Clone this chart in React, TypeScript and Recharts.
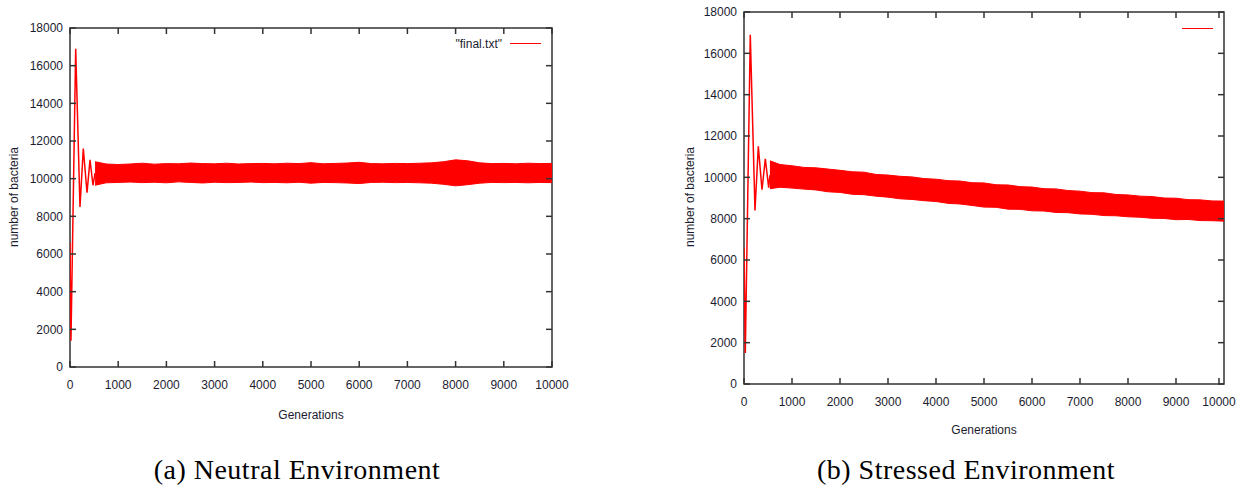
import React from "react";
import { ComposedChart, Line, Area, XAxis, YAxis, ReferenceArea } from "recharts";

const xTicks = [0, 1000, 2000, 3000, 4000, 5000, 6000, 7000, 8000, 9000, 10000];
const yTicks = [0, 2000, 4000, 6000, 8000, 10000, 12000, 14000, 16000, 18000];

// (a) neutral environment: start-up swing, then an oscillating band (low/high edges)
const neutralStartGen = [0, 20, 118, 207, 276, 353, 415, 477, 520];
const neutralStartVal = [6600, 1400, 16900, 8500, 11600, 9250, 11000, 9650, 10300];
const neutralBandGen = [
  520, 750, 1000, 1250, 1500, 1750, 2000, 2250, 2500, 2750, 3000, 3250, 3500, 3750,
  4000, 4250, 4500, 4750, 5000, 5250, 5500, 5750, 6000, 6250, 6500, 6750, 7000,
  7250, 7500, 7750, 8000, 8250, 8500, 8750, 9000, 9250, 9500, 9750, 10000,
];
const neutralBandLo = [
  9650, 9780, 9800, 9820, 9790, 9810, 9780, 9830, 9800, 9770, 9810, 9790, 9800, 9820,
  9790, 9800, 9780, 9810, 9760, 9800, 9790, 9770, 9740, 9800, 9810, 9790, 9800,
  9780, 9760, 9700, 9620, 9680, 9760, 9800, 9790, 9800, 9780, 9800, 9790,
];
const neutralBandHi = [
  10900, 10780, 10750, 10780, 10820, 10770, 10800, 10790, 10830, 10800, 10790, 10820, 10780, 10800,
  10810, 10790, 10820, 10800, 10850, 10790, 10810, 10830, 10870, 10800, 10790, 10810, 10800,
  10820, 10840, 10900, 11000, 10950, 10840, 10800, 10810, 10790, 10820, 10800, 10810,
];

// (b) stressed environment: same start, band drifts down
const stressedStartGen = [0, 27, 131, 229, 298, 375, 444, 514, 540];
const stressedStartVal = [6600, 1500, 16900, 8400, 11500, 9400, 10900, 9500, 10100];
const stressedBandGen = neutralBandGen.map((g, i) => (i === 0 ? 540 : g));
const stressedBandLo = [
  9450, 9520, 9480, 9430, 9390, 9300, 9270, 9180, 9160, 9090, 9040, 8960, 8930, 8870,
  8830, 8740, 8710, 8640, 8560, 8550, 8460, 8450, 8380, 8370, 8300, 8290, 8230,
  8210, 8150, 8140, 8090, 8070, 8020, 8010, 7950, 7960, 7910, 7900, 7880,
];
const stressedBandHi = [
  10800, 10620, 10560, 10480, 10460, 10400, 10340, 10270, 10250, 10140, 10110, 10050, 10020, 9940,
  9910, 9840, 9820, 9740, 9730, 9640, 9630, 9550, 9530, 9450, 9440, 9360, 9330,
  9260, 9250, 9170, 9150, 9090, 9070, 9000, 8990, 8920, 8910, 8860, 8850,
];

const RED = "#ff0000";
const AXIS = "#333333";
const LABEL = "#1c1c30";

function buildRows(sg: number[], sv: number[], bg: number[], lo: number[], hi: number[]) {
  const rows: any[] = sg.map((g, i) => ({ gen: g, v: sv[i] }));
  bg.forEach((g, i) => rows.push({ gen: g, band: [lo[i], hi[i]] }));
  return rows;
}

type PanelProps = {
  left: number;
  width: number;
  height: number;
  margin: { top: number; right: number; bottom: number; left: number };
  rows: any[];
  legendText: string;
  legendY: number;
  titleY: number;
  yTitleX: number;
};

function Panel(p: PanelProps) {
  const yAxisW = 60;
  const xAxisH = 50;
  const plotL = p.margin.left + yAxisW;
  const plotR = p.width - p.margin.right;
  const plotT = p.margin.top;
  const plotB = p.height - p.margin.bottom - xAxisH;
  const font = { fontFamily: "Liberation Sans", fontSize: 12, fill: LABEL };

  const xTick = (props: any) => {
    const { x, payload } = props;
    return (
      <g>
        <line x1={x} x2={x} y1={plotB} y2={plotB - 6} stroke={AXIS} strokeWidth={1.5} />
        <line x1={x} x2={x} y1={plotT} y2={plotT + 6} stroke={AXIS} strokeWidth={1.5} />
        <text x={x} y={plotB + 18} dy="0.35em" textAnchor="middle" {...font}>
          {payload.value}
        </text>
      </g>
    );
  };

  const yTick = (props: any) => {
    const { y, payload } = props;
    return (
      <g>
        <line x1={plotL} x2={plotL + 6} y1={y} y2={y} stroke={AXIS} strokeWidth={1.5} />
        <line x1={plotR - 6} x2={plotR} y1={y} y2={y} stroke={AXIS} strokeWidth={1.5} />
        <text x={plotL - 7} y={y} dy="0.35em" textAnchor="end" {...font}>
          {payload.value}
        </text>
      </g>
    );
  };

  return (
    <div style={{ position: "absolute", left: p.left, top: 0, width: p.width, height: p.height }}>
      <ComposedChart width={p.width} height={p.height} data={p.rows} margin={p.margin}>
        <XAxis
          dataKey="gen"
          type="number"
          domain={[0, 10000]}
          ticks={xTicks}
          tick={xTick}
          tickLine={false}
          axisLine={false}
          height={xAxisH}
          allowDataOverflow
        />
        <YAxis
          type="number"
          domain={[0, 18000]}
          ticks={yTicks}
          tick={yTick}
          tickLine={false}
          axisLine={false}
          width={yAxisW}
          allowDataOverflow
        />
        <ReferenceArea x1={0} x2={10000} y1={0} y2={18000} fill="none" stroke={AXIS} strokeWidth={1.5} />
        <Area
          dataKey="band"
          type="linear"
          stroke={RED}
          strokeWidth={1}
          fill={RED}
          fillOpacity={1}
          isAnimationActive={false}
        />
        <Line
          dataKey="v"
          type="linear"
          stroke={RED}
          strokeWidth={1.5}
          dot={false}
          isAnimationActive={false}
        />
      </ComposedChart>
      {/* legend */}
      <div
        style={{
          position: "absolute",
          right: p.width - plotR + 50,
          top: p.legendY - 8,
          fontFamily: "Liberation Sans",
          fontSize: 12,
          color: LABEL,
          lineHeight: "16px",
        }}
      >
        {p.legendText}
      </div>
      <div
        style={{
          position: "absolute",
          left: plotR - 42,
          width: 31,
          top: p.legendY - 1,
          height: 1,
          background: RED,
        }}
      />
      {/* axis titles */}
      <div
        style={{
          position: "absolute",
          left: plotL,
          width: plotR - plotL,
          top: p.titleY - 8,
          textAlign: "center",
          fontFamily: "Liberation Sans",
          fontSize: 12,
          color: LABEL,
          lineHeight: "16px",
        }}
      >
        Generations
      </div>
      <div
        style={{
          position: "absolute",
          left: p.yTitleX - 80,
          top: 197 - 8,
          width: 160,
          textAlign: "center",
          transform: "rotate(-90deg)",
          fontFamily: "Liberation Sans",
          fontSize: 12,
          color: LABEL,
          lineHeight: "16px",
        }}
      >
        number of bacteria
      </div>
    </div>
  );
}

const captionStyle: React.CSSProperties = {
  position: "absolute",
  top: 454,
  width: 400,
  textAlign: "center",
  fontFamily: "Liberation Serif",
  fontSize: 28,
  letterSpacing: 0.5,
  lineHeight: "32px",
  color: "#000",
};

export default function App() {
  const neutralRows = buildRows(neutralStartGen, neutralStartVal, neutralBandGen, neutralBandLo, neutralBandHi);
  const stressedRows = buildRows(stressedStartGen, stressedStartVal, stressedBandGen, stressedBandLo, stressedBandHi);
  return (
    <div style={{ position: "absolute", left: 0, top: 0, width: 1239, height: 489, background: "#fff", overflow: "hidden" }}>
      <Panel
        left={0}
        width={600}
        height={440}
        margin={{ top: 28, right: 48, bottom: 23, left: 10 }}
        rows={neutralRows}
        legendText={'"final.txt"'}
        legendY={44}
        titleY={415}
        yTitleX={14}
      />
      <Panel
        left={664}
        width={575}
        height={450}
        margin={{ top: 12, right: 15, bottom: 16, left: 20 }}
        rows={stressedRows}
        legendText=""
        legendY={29}
        titleY={430}
        yTitleX={26}
      />
      <div style={{ ...captionStyle, left: 297 - 200 }}>(a) Neutral Environment</div>
      <div style={{ ...captionStyle, left: 966 - 200 }}>(b) Stressed Environment</div>
    </div>
  );
}
